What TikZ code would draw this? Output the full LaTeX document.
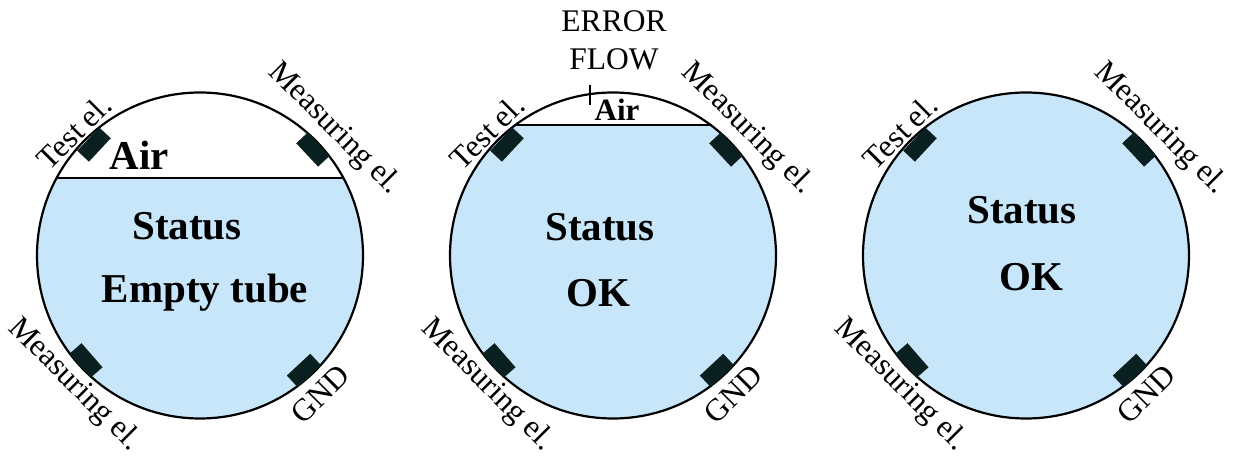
\documentclass[tikz,border=0pt]{standalone}
\usepackage{fontspec}
\setmainfont{Liberation Serif}
\definecolor{fluid}{HTML}{C8E6FA}
\definecolor{electrode}{HTML}{0A2020}
\tikzset{
  x=1pt,y=-1pt,
  tube/.style={draw=black,line width=2.2pt},
  electrodebox/.style={fill=electrode,draw=none,minimum width=32pt,minimum height=16pt,inner sep=0pt},
  lab/.style={font=\fontsize{31.5}{31.5}\selectfont,inner sep=0pt},
  big/.style={font=\fontsize{41}{41}\selectfont\bfseries,inner sep=0pt},
  surface/.style={draw=black,line width=2pt}
}
% #1 name prefix, #2 centre x, #3 water level (pixels)
\newcommand{\sensortube}[3]{%
  \begin{scope}
    \clip (#2,255.5) circle[radius=163];
    \fill[white] (#2-170,85) rectangle (#2+170,#3);
    \fill[fluid] (#2-170,#3) rectangle (#2+170,425);
    \draw[surface] (#2-170,#3) -- (#2+170,#3);
  \end{scope}
  \draw[tube] (#2,255.5) circle[radius=163];
  \node[electrodebox,rotate=47] (#1te) at (#2-106,-111+255.5) {};
  \node[electrodebox,rotate=-47] (#1me) at (#2+113,-106+255.5) {};
  \node[electrodebox,rotate=-49] (#1mf) at (#2-114,105+255.5) {};
  \node[electrodebox,rotate=43] (#1gn) at (#2+104,115+255.5) {};
  \node[lab,rotate=45] (#1tl) at (#2-126,132) {Test el.};
  \node[lab,rotate=-45] (#1ml) at (#2+134,129) {Measuring el.};
  \node[lab,rotate=-45] (#1nl) at (#2-126,385) {Measuring el.};
  \node[lab,rotate=45] (#1gl) at (#2+120,394) {GND};
}
\begin{document}
\begin{tikzpicture}
\useasboundingbox (0,0) rectangle (1235,457);
\fill[white] (0,0) rectangle (1235,457);
\sensortube{a}{200}{178}
\sensortube{b}{613}{125}
\sensortube{c}{1026}{80}
\node[big] (aair) at (139,155) {Air};
\node[big] (astat) at (187,226) {Status};
\node[big] (aempty) at (205,293) {Empty tube};
\node[font=\fontsize{31}{31}\selectfont\bfseries,inner sep=0pt] (bair) at (617,110) {Air};
\node[big] (bstat) at (600,227) {Status};
\node[big] (bok) at (598,293) {OK};
\node[lab] (err) at (614,21) {ERROR};
\node[lab] (flow) at (614,59) {FLOW};
\coordinate (ticktop) at (590,85);
\coordinate (tickbot) at (590,105);
\draw[black,line width=1.6pt] (ticktop) -- (tickbot);
\node[big] (cstat) at (1022,210) {Status};
\node[big] (cok) at (1031,277) {OK};
\end{tikzpicture}
\end{document}
